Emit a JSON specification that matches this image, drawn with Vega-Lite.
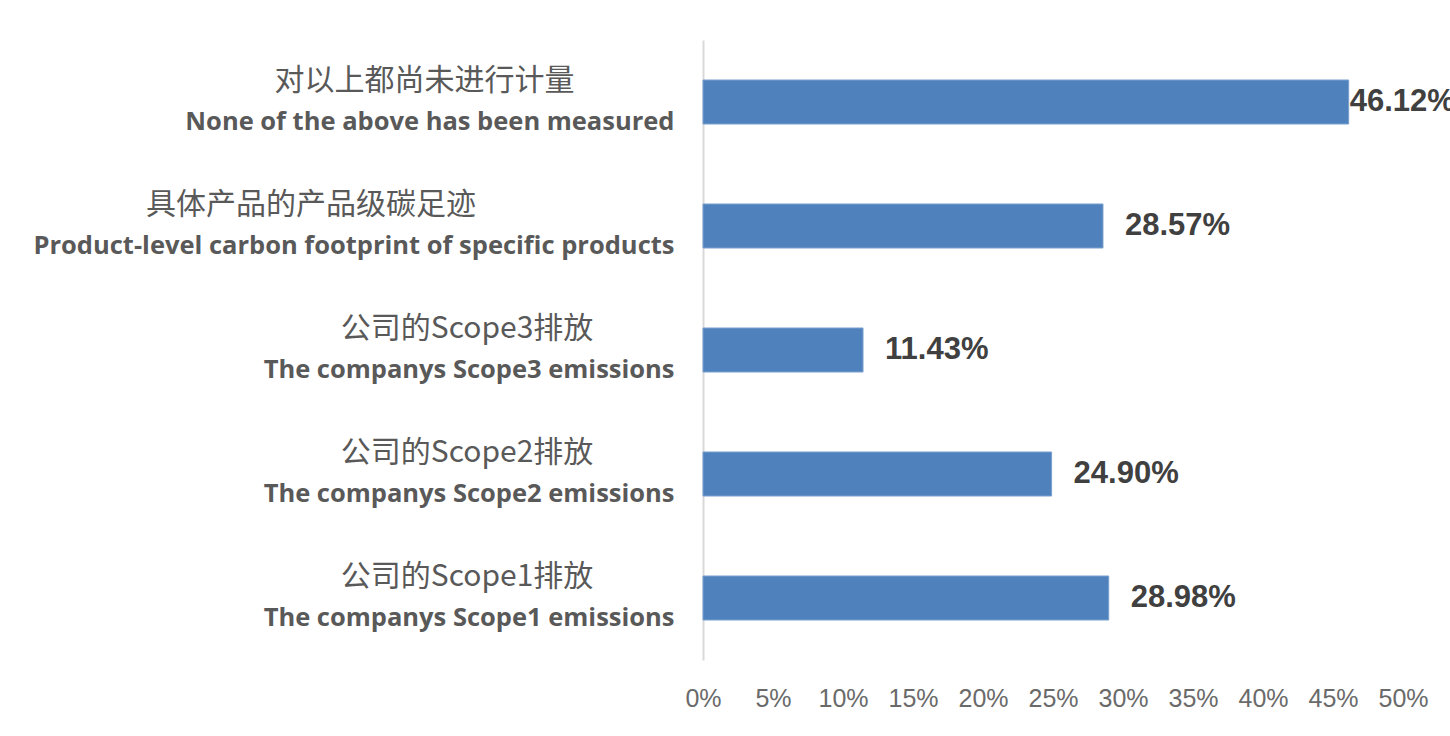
{
  "$schema": "https://vega.github.io/schema/vega-lite/v6.json",
  "autosize": {"type": "none"},
  "width": 700,
  "height": 620,
  "padding": {"left": 703, "top": 40, "right": 47, "bottom": 76},
  "background": "white",
  "config": {"view": {"stroke": null}},
  "data": {
    "values": [
      {"cn": "对以上都尚未进行计量", "en": "None of the above has been measured", "value": 0.4612},
      {"cn": "具体产品的产品级碳足迹", "en": "Product-level carbon footprint of specific products", "value": 0.2857},
      {"cn": "公司的Scope3排放", "en": "The companys Scope3 emissions", "value": 0.1143},
      {"cn": "公司的Scope2排放", "en": "The companys Scope2 emissions", "value": 0.2490},
      {"cn": "公司的Scope1排放", "en": "The companys Scope1 emissions", "value": 0.2898}
    ]
  },
  "encoding": {
    "y": {
      "field": "en",
      "type": "nominal",
      "sort": null,
      "scale": {"paddingInner": 0.645, "paddingOuter": 0.3225},
      "axis": {
        "title": null,
        "domainColor": "#d9d9d9",
        "domainWidth": 2,
        "ticks": false,
        "labelFont": "Open Sans",
        "labelFontWeight": "bold",
        "labelFontSize": 25.5,
        "labelColor": "#595959",
        "labelPadding": 29,
        "labelOffset": 20,
        "labelLimit": 900,
        "labelBaseline": "middle"
      }
    }
  },
  "layer": [
    {
      "mark": {"type": "bar", "color": "#4f81bd", "stroke": "#7aa0cf", "strokeWidth": 1},
      "encoding": {
        "x": {
          "field": "value",
          "type": "quantitative",
          "scale": {"domain": [0, 0.5], "nice": false},
          "axis": {
            "title": null,
            "format": ".0%",
            "values": [0, 0.05, 0.1, 0.15, 0.2, 0.25, 0.3, 0.35, 0.4, 0.45, 0.5],
            "domain": false,
            "ticks": false,
            "grid": false,
            "labelFont": "Liberation Sans",
            "labelFontSize": 25,
            "labelColor": "#6a6a6a",
            "labelPadding": 26,
            "labelFlush": false,
            "labelOverlap": false
          }
        }
      }
    },
    {
      "mark": {"type": "text", "align": "left", "baseline": "middle", "dx": {"expr": "datum.value > 0.45 ? 1 : 22"}, "font": "Liberation Sans", "fontWeight": "bold", "fontSize": 31, "color": "#404040"},
      "encoding": {
        "x": {"field": "value", "type": "quantitative"},
        "text": {"field": "value", "type": "quantitative", "format": ".2%"}
      }
    },
    {
      "mark": {"type": "text", "align": "center", "baseline": "middle", "dx": {"expr": "-30 - length(datum.en) * 7.1"}, "dy": -21, "font": "Noto Sans CJK SC", "fontSize": 30, "color": "#595959"},
      "encoding": {
        "x": {"datum": 0, "type": "quantitative"},
        "text": {"field": "cn"}
      }
    }
  ]
}
